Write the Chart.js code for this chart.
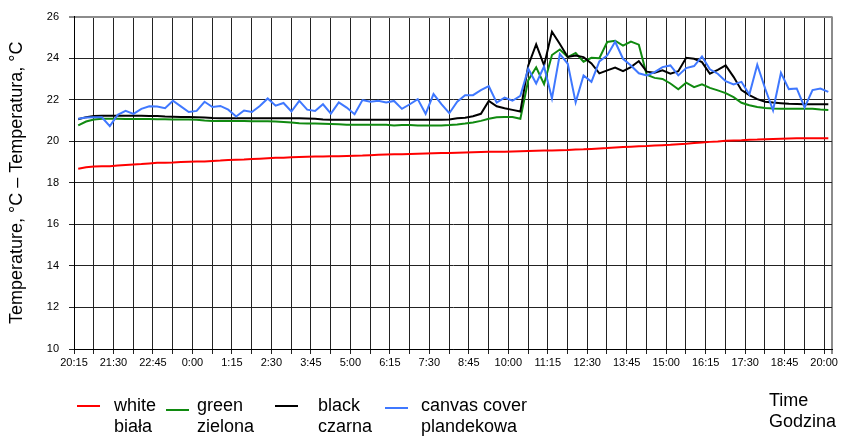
<!DOCTYPE html>
<html>
<head>
<meta charset="utf-8">
<title>Temperature</title>
<script src="https://cdn.jsdelivr.net/npm/chart.js@4.4.1/dist/chart.umd.min.js"></script>
<style>
  html, body { margin: 0; padding: 0; background: #fff; }
</style>
</head>
<body>
<canvas id="tempChart" width="841" height="440"></canvas>
<script>
// Readings every 15 min, first one a few minutes after 20:15
const firstReading = 8;   // minutes after 20:15
const readingStep = 15;   // minutes

const timeLabels = ['20:15', '21:30', '22:45', '0:00', '1:15', '2:30', '3:45', '5:00', '6:15', '7:30',
    '8:45', '10:00', '11:15', '12:30', '13:45', '15:00', '16:15', '17:30', '18:45', '20:00'];

const seriesNames = ['white', 'green', 'black', 'canvas cover'];
const seriesNamesPl = ['biała', 'zielona', 'czarna', 'plandekowa'];

const whiteData = [18.68, 18.75, 18.78, 18.80, 18.80, 18.83, 18.86, 18.88, 18.90, 18.93,
    18.96, 18.97, 18.98, 19.00, 19.01, 19.02, 19.03, 19.05, 19.07, 19.10,
    19.11, 19.12, 19.14, 19.16, 19.18, 19.20, 19.21, 19.23, 19.24, 19.25,
    19.26, 19.27, 19.28, 19.28, 19.29, 19.30, 19.31, 19.33, 19.35, 19.36,
    19.37, 19.38, 19.39, 19.40, 19.41, 19.42, 19.43, 19.44, 19.45, 19.46,
    19.47, 19.48, 19.49, 19.50, 19.50, 19.51, 19.52, 19.53, 19.54, 19.55,
    19.56, 19.57, 19.58, 19.60, 19.61, 19.63, 19.65, 19.67, 19.70, 19.72,
    19.74, 19.76, 19.77, 19.79, 19.81, 19.83, 19.86, 19.88, 19.91, 19.94,
    19.97, 19.99, 20.02, 20.04, 20.05, 20.07, 20.08, 20.10, 20.11, 20.12,
    20.13, 20.14, 20.14, 20.14, 20.14, 20.14];

const greenData = [20.76, 20.95, 21.05, 21.08, 21.08, 21.08, 21.07, 21.07, 21.07, 21.07,
    21.06, 21.06, 21.05, 21.05, 21.05, 21.03, 21.00, 20.98, 20.98, 20.97,
    20.97, 20.97, 20.96, 20.96, 20.96, 20.95, 20.93, 20.90, 20.87, 20.86,
    20.85, 20.84, 20.83, 20.82, 20.80, 20.80, 20.80, 20.79, 20.80, 20.79,
    20.76, 20.78, 20.78, 20.76, 20.76, 20.76, 20.76, 20.78, 20.81, 20.85,
    20.90, 20.98, 21.08, 21.15, 21.17, 21.17, 21.08, 22.94, 23.56, 22.75,
    24.15, 24.42, 24.05, 24.25, 23.83, 24.02, 24.00, 24.78, 24.84, 24.60,
    24.80, 24.65, 23.20, 23.05, 23.00, 22.78, 22.50, 22.82, 22.60, 22.74,
    22.57, 22.45, 22.32, 22.12, 21.85, 21.73, 21.65, 21.60, 21.58, 21.57,
    21.57, 21.57, 21.56, 21.56, 21.53, 21.51];

const blackData = [21.06, 21.16, 21.22, 21.23, 21.23, 21.23, 21.23, 21.23, 21.23, 21.22,
    21.21, 21.19, 21.18, 21.17, 21.17, 21.16, 21.14, 21.12, 21.11, 21.11,
    21.11, 21.11, 21.11, 21.11, 21.11, 21.11, 21.11, 21.11, 21.11, 21.10,
    21.08, 21.05, 21.04, 21.04, 21.04, 21.04, 21.04, 21.04, 21.04, 21.04,
    21.03, 21.03, 21.03, 21.03, 21.03, 21.03, 21.03, 21.05, 21.11, 21.13,
    21.20, 21.32, 21.94, 21.68, 21.59, 21.51, 21.43, 23.65, 24.66, 23.65,
    25.27, 24.68, 24.06, 24.13, 24.05, 23.75, 23.27, 23.41, 23.55, 23.37,
    23.57, 23.86, 23.35, 23.30, 23.41, 23.25, 23.37, 24.02, 23.97, 23.81,
    23.25, 23.44, 23.65, 23.10, 22.46, 22.22, 22.03, 21.90, 21.86, 21.83,
    21.80, 21.79, 21.78, 21.78, 21.78, 21.78];

const canvasData = [21.08, 21.14, 21.15, 21.15, 20.73, 21.27, 21.46, 21.32, 21.56, 21.68,
    21.67, 21.59, 21.95, 21.68, 21.41, 21.46, 21.90, 21.65, 21.70, 21.52,
    21.19, 21.48, 21.41, 21.70, 22.06, 21.71, 21.84, 21.43, 21.94, 21.52,
    21.46, 21.78, 21.33, 21.87, 21.62, 21.30, 21.98, 21.90, 21.95, 21.87,
    21.94, 21.56, 21.78, 22.03, 21.32, 22.27, 21.79, 21.35, 21.90, 22.22,
    22.22, 22.46, 22.65, 21.86, 22.10, 21.95, 22.19, 23.49, 22.78, 23.60,
    22.06, 24.20, 23.73, 21.87, 23.17, 22.86, 23.84, 24.13, 24.79, 23.97,
    23.65, 23.27, 23.17, 23.33, 23.57, 23.65, 23.17, 23.52, 23.62, 24.08,
    23.46, 23.25, 22.89, 22.73, 22.86, 22.25, 23.68, 22.54, 21.49, 23.29,
    22.51, 22.54, 21.63, 22.46, 22.54, 22.38];

const xTitle = ['Time', 'Godzina'];
const yTitle = 'Temperature, °C – Temperatura, °C';

const FONT = '"Liberation Sans", Arial, sans-serif';

// turn a value list into {x, y} points on the minute scale
function toPoints(values) {
    return values.map((v, i) => ({ x: firstReading + i * readingStep, y: v }));
}

const lineSets = [
    { data: whiteData, color: '#ff0000', order: 3 },
    { data: greenData, color: '#108a10', order: 2 },
    { data: blackData, color: '#000000', order: 1 },
    { data: canvasData, color: '#3f78ff', order: 0 }
];

// where the legend entries sit under the chart
const legendSpots = [
    { x0: 77, x1: 100, y: 406, tx: 114 },
    { x0: 166, x1: 189, y: 410, tx: 197 },
    { x0: 275, x1: 298, y: 406, tx: 318 },
    { x0: 385, x1: 408, y: 408, tx: 421 }
];

const legendPlugin = {
    id: 'twoLineLegend',
    afterDraw(chart) {
        const ctx = chart.ctx;
        ctx.save();
        ctx.font = '18px ' + FONT;
        ctx.fillStyle = '#000';
        ctx.textBaseline = 'alphabetic';
        chart.data.datasets.forEach((ds, i) => {
            const spot = legendSpots[i];
            ctx.strokeStyle = ds.borderColor;
            ctx.lineWidth = 2;
            ctx.beginPath();
            ctx.moveTo(spot.x0, spot.y);
            ctx.lineTo(spot.x1, spot.y);
            ctx.stroke();
            ctx.fillText(seriesNames[i], spot.tx, 410.5);
            ctx.fillText(seriesNamesPl[i], spot.tx, 431.5);
        });
        // x axis title, bottom right
        ctx.fillText(xTitle[0], 769, 405.5);
        ctx.fillText(xTitle[1], 769, 426.5);
        ctx.restore();
    }
};

const ctxTemp = document.getElementById('tempChart').getContext('2d');
const tempChart = new Chart(ctxTemp, {
    type: 'line',
    data: {
        datasets: lineSets.map((s, i) => ({
            label: seriesNames[i] + ' / ' + seriesNamesPl[i],
            data: toPoints(s.data),
            borderColor: s.color,
            backgroundColor: s.color,
            borderWidth: 2,
            pointRadius: 0,
            tension: 0,
            fill: false,
            order: s.order
        }))
    },
    options: {
        responsive: false,
        animation: false,
        devicePixelRatio: 1,
        layout: {
            padding: { top: 14, right: 9, bottom: 0, left: 0 }
        },
        plugins: {
            legend: { display: false },
            tooltip: { enabled: false }
        },
        scales: {
            x: {
                type: 'linear',
                min: 0,
                max: 1440,
                afterFit(scale) { scale.height = 91; },
                // a gridline every 37.5 min, plus the right edge
                afterBuildTicks(scale) {
                    const ticks = [];
                    for (let v = 0; v <= 1425; v += 37.5) ticks.push({ value: v });
                    ticks.push({ value: 1440 });
                    scale.ticks = ticks;
                },
                grid: {
                    color: (c) => (c.tick && c.tick.value === 1440 ? '#8c8c8c' : '#222'),
                    lineWidth: (c) => (c.tick && c.tick.value === 1440 ? 2 : 1),
                    tickLength: 5
                },
                border: { color: '#000' },
                ticks: {
                    autoSkip: false,
                    maxRotation: 0,
                    padding: 2,
                    color: '#000',
                    font: { family: FONT, size: 11 },
                    callback: (value) => {
                        const m = Math.round(value * 10) / 10;
                        if (m % 75 !== 0) return '';
                        return timeLabels[m / 75] || '';
                    }
                }
            },
            y: {
                min: 10,
                max: 26,
                afterFit(scale) { scale.width = 74; },
                grid: {
                    color: (c) => (c.tick && c.tick.value === 26 ? '#8c8c8c' : '#222'),
                    lineWidth: (c) => (c.tick && c.tick.value === 26 ? 2 : 1),
                    tickLength: 5
                },
                border: { color: '#000' },
                title: {
                    display: true,
                    text: yTitle,
                    color: '#000',
                    font: { family: FONT, size: 18 },
                    padding: { top: 6, bottom: 0 }
                },
                ticks: {
                    stepSize: 2,
                    padding: 10,
                    color: '#000',
                    font: { family: FONT, size: 11 }
                }
            }
        }
    },
    plugins: [legendPlugin]
});
</script>
</body>
</html>
